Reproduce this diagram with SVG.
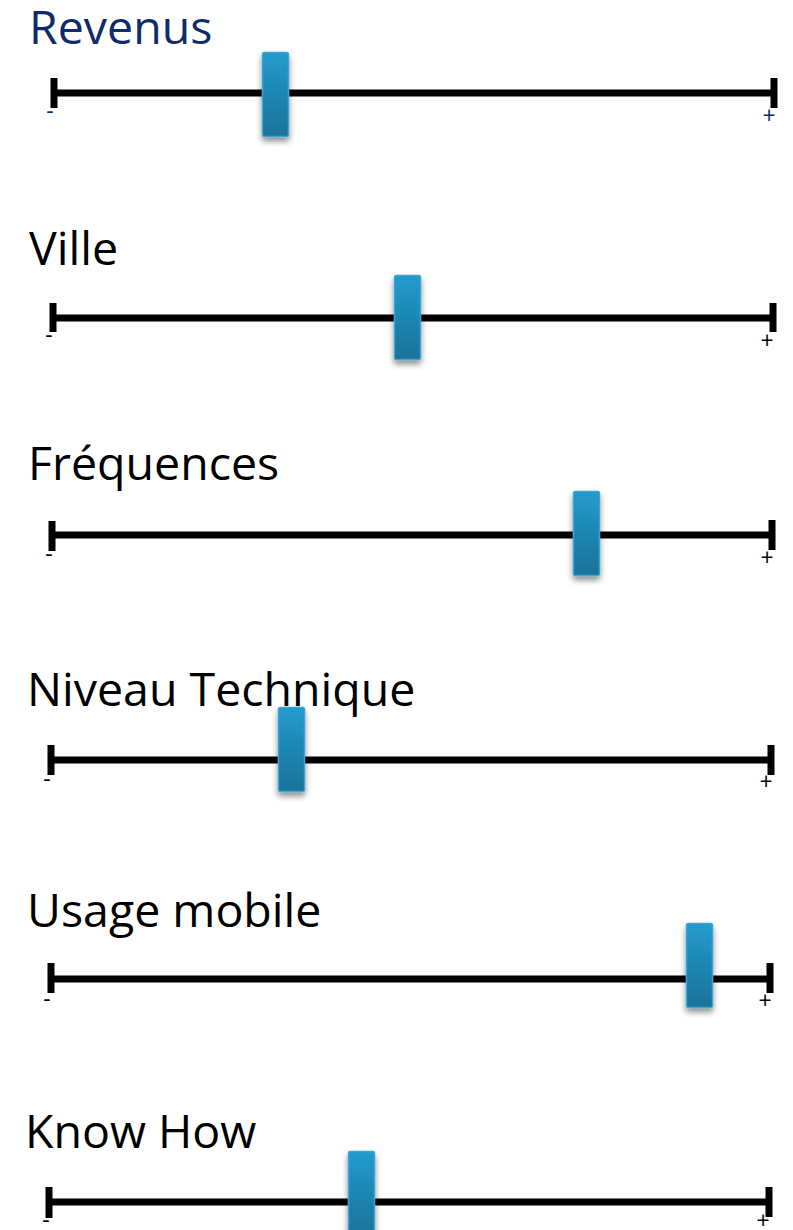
<svg xmlns="http://www.w3.org/2000/svg" width="793" height="1230" viewBox="0 0 793 1230">
<defs>
<linearGradient id="thumbGrad" x1="0" y1="0" x2="0" y2="1">
<stop offset="0" stop-color="#229BCE"/>
<stop offset="1" stop-color="#1A7298"/>
</linearGradient>
<filter id="shadow" x="-50%" y="-20%" width="200%" height="150%">
<feGaussianBlur in="SourceAlpha" stdDeviation="3"/>
<feOffset dx="0" dy="4" result="b"/>
<feComponentTransfer><feFuncA type="linear" slope="0.45"/></feComponentTransfer>
<feMerge><feMergeNode/><feMergeNode in="SourceGraphic"/></feMerge>
</filter>
</defs>
<style>
.label{font-family:"Open Sans","Noto Sans","DejaVu Sans",sans-serif;font-size:46.5px;fill:#000}
.sign{font-family:"Open Sans","Noto Sans","DejaVu Sans",sans-serif;font-size:23px;fill:#000;text-anchor:middle}
.blue{fill:#0F2B6B}
.track{stroke:#000;stroke-width:7;fill:none}
.tick{stroke:#000;stroke-width:7;fill:none}
.thumb{fill:url(#thumbGrad);stroke:#3DA3D3;stroke-width:1.5;filter:url(#shadow)}
</style>

<g id="revenus">
<text class="label blue" x="29" y="44">Revenus</text>
<line class="track" x1="54" y1="93" x2="774" y2="93"/>
<line class="tick" x1="54" y1="78" x2="54" y2="108"/>
<line class="tick" x1="774" y1="78" x2="774" y2="108"/>
<text class="sign blue" x="50" y="119">-</text>
<text class="sign blue" x="769" y="124">+</text>
<rect class="thumb" x="262.5" y="52.5" width="26" height="84" rx="2"/>
</g>

<g id="ville">
<text class="label" x="29" y="265">Ville</text>
<line class="track" x1="53" y1="318" x2="773" y2="318"/>
<line class="tick" x1="53" y1="303" x2="53" y2="332"/>
<line class="tick" x1="773" y1="303" x2="773" y2="332"/>
<text class="sign" x="49" y="343">-</text>
<text class="sign" x="767" y="349">+</text>
<rect class="thumb" x="394.5" y="275.5" width="26" height="84" rx="2"/>
</g>

<g id="frequences">
<text class="label" x="28" y="480">Fréquences</text>
<line class="track" x1="52" y1="535" x2="772" y2="535"/>
<line class="tick" x1="52" y1="521" x2="52" y2="551"/>
<line class="tick" x1="772" y1="520" x2="772" y2="550"/>
<text class="sign" x="49" y="562">-</text>
<text class="sign" x="767" y="566">+</text>
<rect class="thumb" x="573.5" y="491.5" width="26" height="84" rx="2"/>
</g>

<g id="niveau-technique">
<text class="label" x="27" y="706">Niveau Technique</text>
<line class="track" x1="51" y1="760" x2="771" y2="760"/>
<line class="tick" x1="51" y1="745" x2="51" y2="775"/>
<line class="tick" x1="771" y1="745" x2="771" y2="775"/>
<text class="sign" x="47" y="787">-</text>
<text class="sign" x="766" y="790">+</text>
<rect class="thumb" x="278.5" y="707.5" width="26" height="84" rx="2"/>
</g>

<g id="usage-mobile">
<text class="label" x="27" y="927">Usage mobile</text>
<line class="track" x1="51" y1="979" x2="770" y2="979"/>
<line class="tick" x1="51" y1="963" x2="51" y2="993"/>
<line class="tick" x1="770" y1="963" x2="770" y2="993"/>
<text class="sign" x="47" y="1007">-</text>
<text class="sign" x="765" y="1009">+</text>
<rect class="thumb" x="686.5" y="923.5" width="26" height="84" rx="2"/>
</g>

<g id="know-how">
<text class="label" x="25" y="1148">Know How</text>
<line class="track" x1="49" y1="1202" x2="769" y2="1202"/>
<line class="tick" x1="49" y1="1187" x2="49" y2="1218"/>
<line class="tick" x1="769" y1="1187" x2="769" y2="1217"/>
<text class="sign" x="46" y="1228">-</text>
<text class="sign" x="763" y="1229">+</text>
<rect class="thumb" x="348.5" y="1151.5" width="26" height="84" rx="2"/>
</g>
</svg>
